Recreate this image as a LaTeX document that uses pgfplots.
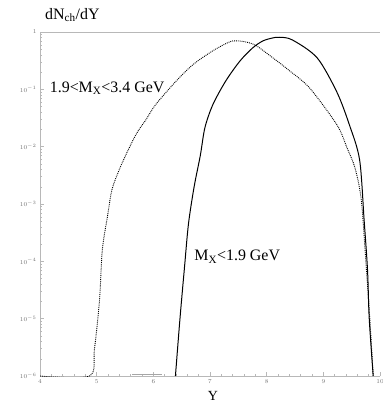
\documentclass[border=0pt]{standalone}
\usepackage{pgfplots}
\pgfplotsset{compat=1.18}
\usepackage{fontspec}
\setmainfont{Liberation Serif}
\definecolor{axgray}{gray}{0.72}
\definecolor{lblgray}{gray}{0.45}
\begin{document}
\begin{tikzpicture}
\useasboundingbox (-40bp,-30bp) rectangle (343bp,376bp);
\begin{axis}[
  at={(0,0)}, anchor=south west,
  scale only axis,
  width=340bp, height=344bp,
  xmin=4, xmax=10, ymin=1e-6, ymax=1,
  ymode=log,
  axis line style={axgray, line width=0.6pt},
  axis x line*=bottom, axis y line*=left,
  xtick={4,5,6,7,8,9,10},
  ytick={1e-6,1e-5,1e-4,1e-3,1e-2,1e-1,1},
  yticklabels={$10^{-6}$,$10^{-5}$,$10^{-4}$,$10^{-3}$,$10^{-2}$,$10^{-1}$,$1$},
  minor x tick num=4,
  tick style={axgray, line width=0.4pt},
  major tick length=4pt, minor tick length=2pt,
  tick align=inside,
  ticklabel style={font=\fontsize{6}{7}\selectfont, text=lblgray},
  clip=true,
]
\draw[axgray, line width=0.6pt] (rel axis cs:0,1) -- (rel axis cs:1,1);
% gray tail segment on the baseline
\addplot[gray!70, line width=1pt] coordinates {(5.62,1.05e-6) (6.15,1.05e-6)};
% 1.9 < M_X < 3.4 GeV (dotted)
\addplot[black, densely dotted, line width=0.9pt, smooth, tension=0.5] coordinates {
(4.0,1e-6) (4.87,1e-6) (4.96,2.9e-6) (5.05,2.1e-5) (5.10,1.6e-4) (5.19,6.0e-4)
(5.27,1.78e-3) (5.40,4e-3) (5.54,8.1e-3) (5.71,1.74e-2) (5.87,2.95e-2)
(6.04,5.4e-2) (6.39,0.135) (6.70,0.27) (7.05,0.47) (7.35,0.676) (7.47,0.70)
(7.60,0.68) (7.80,0.59) (8.10,0.36) (8.38,0.22) (8.76,0.105) (9.24,0.024)
(9.41,0.01) (9.56,0.0042) (9.67,1.17e-3) (9.75,1e-4) (9.82,1e-5) (9.88,1e-6)
};
% M_X < 1.9 GeV (solid)
\addplot[black, line width=1pt, smooth, tension=0.5] coordinates {
(6.39,1e-6) (6.47,1e-5) (6.55,7.9e-5) (6.62,4.5e-4) (6.72,2e-3) (6.83,7.1e-3)
(6.91,0.0214) (7.05,0.054) (7.28,0.141) (7.53,0.313) (7.75,0.525) (7.93,0.697)
(8.10,0.785) (8.22,0.81) (8.45,0.73) (8.89,0.355) (9.24,0.089) (9.46,0.024)
(9.64,5.9e-3) (9.72,5.2e-4) (9.78,7e-5) (9.81,1e-5) (9.88,1e-6)
};
\node[anchor=west, font=\fontsize{16}{18}\selectfont, inner sep=0pt] at (axis cs:4.17,1.05e-1) {1.9<M\textsubscript{X}<3.4 GeV};
\node[anchor=west, font=\fontsize{16}{18}\selectfont, inner sep=0pt] at (axis cs:6.72,1.2e-4) {M\textsubscript{X}<1.9 GeV};
\end{axis}
\node[anchor=west, font=\fontsize{16}{18}\selectfont, inner sep=0pt] at (5bp,361bp) {dN\textsubscript{ch}/dY};
\node[font=\fontsize{14}{16}\selectfont, inner sep=0pt] at (173bp,-20bp) {Y};
\end{tikzpicture}
\end{document}
